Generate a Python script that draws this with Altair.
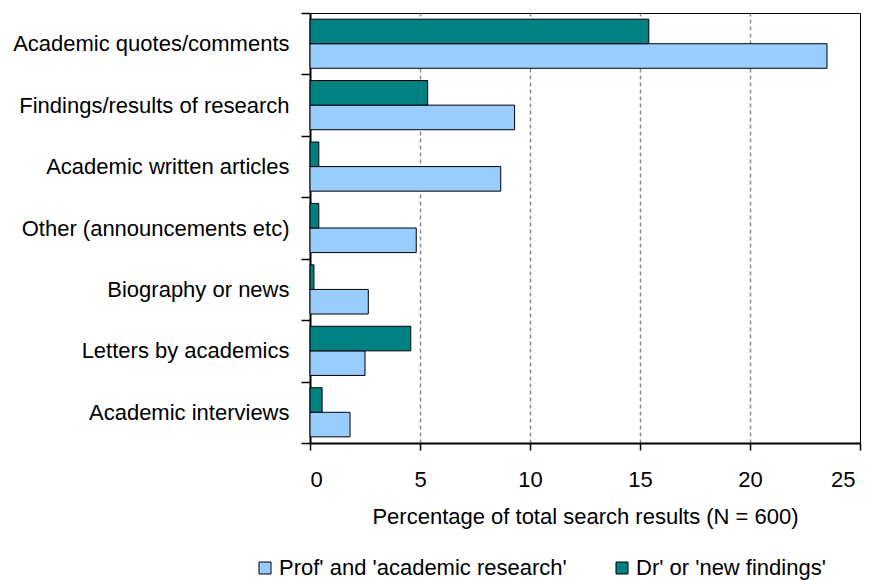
import altair as alt
import pandas as pd

categories = [
    "Academic quotes/comments",
    "Findings/results of research",
    "Academic written articles",
    "Other (announcements etc)",
    "Biography or news",
    "Letters by academics",
    "Academic interviews",
]
prof_values = [23.5, 9.3, 8.67, 4.83, 2.65, 2.5, 1.82]
dr_values = [15.4, 5.35, 0.4, 0.4, 0.18, 4.58, 0.55]
series_names = ["Prof' and 'academic research'", "Dr' or 'new findings'"]
series_colors = ["#99CCFF", "#008080"]
x_ticks = [0, 5, 10, 15, 20, 25]

rows = []
for c, p, d in zip(categories, prof_values, dr_values):
    rows.append({"category": c, "series": series_names[0], "value": p})
    rows.append({"category": c, "series": series_names[1], "value": d})
df = pd.DataFrame(rows)

FONT = "Liberation Sans"

chart = alt.Chart(df).mark_bar(stroke="black", strokeWidth=1).encode(
    y=alt.Y(
        "category:N",
        sort=categories,
        scale=alt.Scale(paddingInner=0, paddingOuter=0),
        axis=alt.Axis(
            title=None,
            tickBand="extent",
            grid=False,
            domainColor="black",
            domainWidth=2,
            tickColor="black",
            tickSize=9,
            tickWidth=1.5,
            labelFont=FONT,
            labelFontSize=22,
            labelColor="black",
            labelPadding=12,
            labelLimit=400,
        ),
    ),
    yOffset=alt.YOffset(
        "series:N",
        sort=[series_names[1], series_names[0]],
        scale=alt.Scale(paddingInner=0, paddingOuter=0.25),
    ),
    x=alt.X(
        "value:Q",
        scale=alt.Scale(domain=[0, 25], nice=False),
        axis=alt.Axis(
            values=x_ticks,
            title="Percentage of total search results (N = 600)",
            titleFont=FONT,
            titleFontSize=22,
            titleFontWeight="normal",
            titleColor="black",
            titleBaseline="alphabetic",
            titleY=80,
            domainColor="black",
            domainWidth=2,
            tickColor="black",
            tickSize=7,
            tickWidth=1.5,
            labelFont=FONT,
            labelFontSize=22,
            labelColor="black",
            labelBaseline="alphabetic",
            labelPadding=36,
            labelOffset={"condition": {"test": "datum.value == 25", "value": -5}, "value": 0},
            grid=True,
            gridColor="#8c8c8c",
            gridDash=[4, 3],
            gridWidth=1.5,
            gridOpacity={"condition": {"test": "datum.value == 0 || datum.value == 25", "value": 0}, "value": 1},
        ),
    ),
    color=alt.Color(
        "series:N",
        scale=alt.Scale(domain=series_names, range=series_colors),
        legend=alt.Legend(
            title=None,
            orient="none",
            legendX=-56,
            legendY=544,
            direction="horizontal",
            symbolType="square",
            symbolSize=144,
            symbolStrokeColor="black",
            symbolStrokeWidth=1,
            symbolOpacity=1,
            labelFont=FONT,
            labelFontSize=22,
            labelColor="black",
            labelOffset=3,
            labelLimit=400,
            columnPadding=44,
        ),
    ),
).properties(
    width=550,
    height=430,
    autosize=alt.AutoSizeParams(type="none"),
    padding={"left": 302, "top": 5, "right": 4, "bottom": 137},
).configure_view(
    stroke="black", strokeWidth=1
)

chart.save("out.html", embed_options={"renderer": "svg", "actions": False})
